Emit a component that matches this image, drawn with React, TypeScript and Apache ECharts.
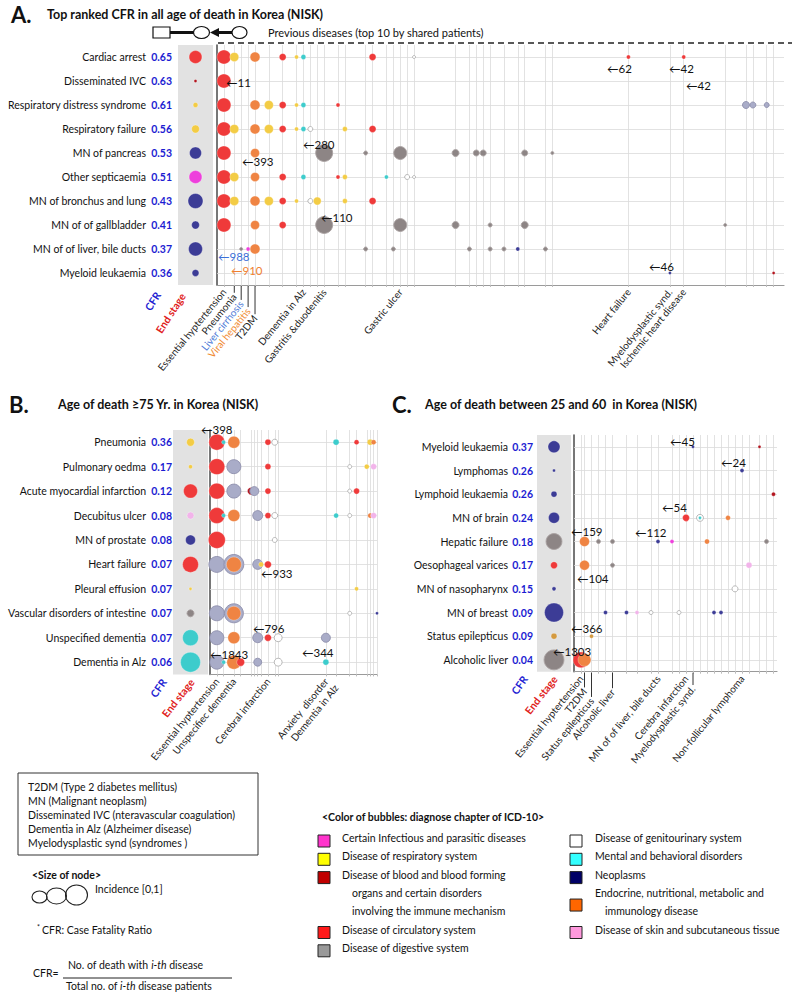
import React, { useEffect, useRef } from 'react';
import * as echarts from 'echarts';

const FONT = 'Lato, "Noto Sans", "DejaVu Sans", sans-serif';

// ---------------- Panel A: all ages ----------------
const rowsA = ['Cardiac arrest', 'Disseminated IVC', 'Respiratory distress syndrome', 'Respiratory failure', 'MN of pancreas', 'Other septicaemia', 'MN of bronchus and lung', 'MN of of gallbladder', 'MN of of liver, bile ducts', 'Myeloid leukaemia'];
const cfrA = [0.65, 0.63, 0.61, 0.56, 0.53, 0.51, 0.43, 0.41, 0.37, 0.36];
const endChapterA = ['circ', 'blood', 'resp', 'resp', 'neo', 'inf', 'neo', 'neo', 'neo', 'neo'];
const endIncA = [0.29, 0.016, 0.043, 0.11, 0.25, 0.29, 0.39, 0.11, 0.34, 0.085];
const slotCountA = 165;
const labelsA: [number, string][] = [
  [2, 'Essential hyptertension'], [5, 'Pneumonia'], [7, 'Liver cirrhosis'], [9, 'Viral hepatitis'], [11, 'T2DM'],
  [25, 'Dementia in Alz'], [31, 'Gastritis &duodenitis'], [53, 'Gastric ulcer'], [119, 'Heart failure'],
  [131, 'Myelodysplastic synd.'], [135, 'Ischemic heart disease'],
];
// [row, column slot, ICD chapter, incidence]
const bubblesA: [number, number, string, number][] = [
  [0, 2, 'circ', 0.34], [0, 5, 'resp', 0.14], [0, 11, 'endo', 0.17], [0, 19, 'circ', 0.085], [0, 23, 'resp', 0.028], [0, 25, 'ment', 0.043], [0, 45, 'circ', 0.085], [0, 57, 'gen', 0.016], [0, 119, 'circ', 0.028], [0, 135, 'circ', 0.028],
  [1, 2, 'circ', 0.34],
  [2, 2, 'circ', 0.34], [2, 11, 'endo', 0.17], [2, 15, 'resp', 0.14], [2, 19, 'circ', 0.085], [2, 23, 'resp', 0.028], [2, 25, 'ment', 0.043], [2, 35, 'circ', 0.028], [2, 153, 'oth', 0.085], [2, 155, 'oth', 0.063], [2, 159, 'oth', 0.043],
  [3, 2, 'circ', 0.34], [3, 5, 'resp', 0.14], [3, 11, 'endo', 0.17], [3, 15, 'resp', 0.14], [3, 19, 'circ', 0.085], [3, 23, 'resp', 0.028], [3, 25, 'ment', 0.043], [3, 27, 'gen', 0.043], [3, 37, 'resp', 0.043], [3, 45, 'circ', 0.085],
  [4, 2, 'circ', 0.34], [4, 11, 'endo', 0.14], [4, 31, 'dig', 0.5], [4, 43, 'dig', 0.028], [4, 53, 'dig', 0.29], [4, 69, 'dig', 0.085], [4, 75, 'dig', 0.063], [4, 77, 'dig', 0.063], [4, 89, 'dig', 0.063], [4, 97, 'dig', 0.016],
  [5, 2, 'circ', 0.34], [5, 5, 'resp', 0.14], [5, 11, 'endo', 0.14], [5, 19, 'circ', 0.085], [5, 25, 'ment', 0.043], [5, 35, 'circ', 0.028], [5, 37, 'resp', 0.043], [5, 49, 'ment', 0.028], [5, 55, 'gen', 0.043], [5, 57, 'gen', 0.016],
  [6, 2, 'circ', 0.34], [6, 5, 'resp', 0.14], [6, 11, 'endo', 0.17], [6, 15, 'resp', 0.14], [6, 19, 'circ', 0.085], [6, 23, 'resp', 0.028], [6, 27, 'gen', 0.043], [6, 29, 'resp', 0.11], [6, 37, 'resp', 0.043], [6, 45, 'circ', 0.085],
  [7, 2, 'circ', 0.34], [7, 11, 'endo', 0.14], [7, 19, 'circ', 0.085], [7, 31, 'dig', 0.5], [7, 53, 'dig', 0.29], [7, 69, 'dig', 0.085], [7, 79, 'dig', 0.028], [7, 89, 'dig', 0.085], [7, 147, 'dig', 0.016],
  [8, 7, 'dig', 0.016], [8, 9, 'inf', 0.028], [8, 11, 'endo', 0.17], [8, 43, 'dig', 0.028], [8, 51, 'dig', 0.028], [8, 73, 'dig', 0.028], [8, 79, 'dig', 0.028], [8, 83, 'dig', 0.028], [8, 87, 'neo', 0.028], [8, 95, 'dig', 0.028],
  [9, 131, 'neo', 0.016], [9, 161, 'blood', 0.016],
];

// ---------------- Panel B: age >= 75 ----------------
const rowsB = ['Pneumonia', 'Pulmonary oedma', 'Acute myocardial infarction', 'Decubitus ulcer', 'MN of prostate', 'Heart failure', 'Pleural effusion', 'Vascular disorders of intestine', 'Unspecified dementia', 'Dementia in Alz'];
const cfrB = [0.36, 0.17, 0.12, 0.08, 0.08, 0.07, 0.07, 0.07, 0.07, 0.06];
const endChapterB = ['resp', 'resp', 'circ', 'skin', 'neo', 'circ', 'resp', 'dig', 'ment', 'ment'];
const endIncB = [0.11, 0.028, 0.34, 0.085, 0.17, 0.44, 0.016, 0.085, 0.44, 0.69];
const slotCountB = 50;
const labelsB: [number, string][] = [
  [2, 'Essential hyptertension'], [7, 'Unspecifiec dementia'], [17, 'Cerebral infarction'], [34, 'Anxiety  disorder'], [37, 'Dementia in Alz'],
];
const bubblesB: [number, number, string, number][] = [
  [0, 2, 'circ', 0.44], [0, 4, 'ment', 0.028], [0, 7, 'endo', 0.25], [0, 17, 'circ', 0.063], [0, 19, 'gen', 0.063], [0, 37, 'ment', 0.063], [0, 43, 'circ', 0.043], [0, 47, 'resp', 0.063], [0, 48, 'endo', 0.043],
  [1, 2, 'circ', 0.44], [1, 7, 'oth', 0.34], [1, 17, 'circ', 0.063], [1, 41, 'gen', 0.028], [1, 46, 'resp', 0.043], [1, 48, 'skin', 0.063],
  [2, 2, 'circ', 0.44], [2, 7, 'oth', 0.34], [2, 12, 'blood', 0.085], [2, 13, 'oth', 0.14], [2, 17, 'circ', 0.063], [2, 41, 'gen', 0.028], [2, 43, 'circ', 0.063],
  [3, 2, 'circ', 0.44], [3, 4, 'ment', 0.028], [3, 7, 'endo', 0.25], [3, 14, 'oth', 0.17], [3, 17, 'circ', 0.063], [3, 19, 'gen', 0.063], [3, 37, 'ment', 0.043], [3, 41, 'gen', 0.028], [3, 47, 'endo', 0.043], [3, 48, 'skin', 0.063],
  [4, 2, 'circ', 0.5], [4, 19, 'gen', 0.043],
  [5, 2, 'oth', 0.44], [5, 7, 'oth', 0.69], [5, 7, 'endo', 0.39], [5, 14, 'oth', 0.17], [5, 15, 'resp', 0.043], [5, 17, 'circ', 0.085],
  [6, 43, 'resp', 0.028],
  [7, 2, 'oth', 0.39], [7, 7, 'oth', 0.63], [7, 7, 'endo', 0.34], [7, 41, 'gen', 0.028], [7, 49, 'neo', 0.016],
  [8, 2, 'oth', 0.34], [8, 7, 'endo', 0.25], [8, 14, 'oth', 0.17], [8, 17, 'circ', 0.085], [8, 20, 'gen', 0.11], [8, 34, 'oth', 0.14],
  [9, 2, 'oth', 0.34], [9, 4, 'ment', 0.028], [9, 7, 'endo', 0.34], [9, 9, 'circ', 0.11], [9, 14, 'oth', 0.11], [9, 20, 'gen', 0.11], [9, 34, 'ment', 0.063],
];

// ---------------- Panel C: age 25-60 ----------------
const rowsC = ['Myeloid leukaemia', 'Lymphomas', 'Lymphoid leukaemia', 'MN of brain', 'Hepatic failure', 'Oesophageal varices', 'MN of nasopharynx', 'MN of breast', 'Status epilepticus', 'Alcoholic liver'];
const cfrC = [0.37, 0.26, 0.26, 0.24, 0.18, 0.17, 0.15, 0.09, 0.09, 0.04];
const endChapterC = ['neo', 'neo', 'neo', 'neo', 'dig', 'circ', 'neo', 'neo', 'nerv', 'dig'];
const endIncC = [0.25, 0.016, 0.063, 0.21, 0.44, 0.085, 0.028, 0.63, 0.063, 0.69];
const slotCountC = 59;
const labelsC: [number, string][] = [
  [2, 'Essential hyptertension'], [3, 'T2DM'], [5, 'Status epilepticus'], [11, 'Alcoholic liver'],
  [24, 'MN of of liver, bile ducts'], [32, 'Cerebra infarction'], [34, 'Myelodysplastic synd.'], [48, 'Non-follicular lymphoma'],
];
const bubblesC: [number, number, string, number][] = [
  [0, 34, 'neo', 0.016], [0, 53, 'blood', 0.016],
  [1, 48, 'neo', 0.028],
  [2, 57, 'blood', 0.028],
  [3, 32, 'circ', 0.085], [3, 36, 'gen', 0.085], [3, 36, 'ment', 0.016], [3, 44, 'endo', 0.043],
  [4, 3, 'endo', 0.17], [4, 7, 'dig', 0.028], [4, 11, 'dig', 0.028], [4, 24, 'neo', 0.028], [4, 28, 'inf', 0.028], [4, 38, 'endo', 0.043], [4, 55, 'dig', 0.028],
  [5, 3, 'endo', 0.17], [5, 11, 'dig', 0.028], [5, 50, 'skin', 0.063],
  [6, 46, 'gen', 0.063],
  [7, 9, 'neo', 0.028], [7, 15, 'neo', 0.028], [7, 18, 'skin', 0.028], [7, 22, 'gen', 0.028], [7, 30, 'gen', 0.028], [7, 40, 'neo', 0.028], [7, 42, 'neo', 0.028],
  [8, 5, 'nerv', 0.028],
  [9, 2, 'circ', 0.44], [9, 3, 'endo', 0.29],
];

// ---------------- Legend ----------------
const legendLeft: [string, string[]][] = [
  ['inf', ['Certain Infectious and parasitic diseases']],
  ['resp', ['Disease of respiratory system']],
  ['blood', ['Disease of blood and blood forming', 'organs and certain disorders', 'involving the immune mechanism']],
  ['circ', ['Disease of circulatory system']],
  ['dig', ['Disease of digestive system']],
];
const legendRight: [string, string[]][] = [
  ['gen', ['Disease of genitourinary system']],
  ['ment', ['Mental and behavioral disorders']],
  ['neo', ['Neoplasms']],
  ['endo', ['Endocrine, nutritional, metabolic and', 'immunology disease']],
  ['skin', ['Disease of skin and subcutaneous tissue']],
];
const abbreviations = [
  'T2DM (Type 2 diabetes mellitus)',
  'MN (Malignant neoplasm)',
  'Disseminated IVC (nteravascular coagulation)',
  'Dementia in Alz (Alzheimer disease)',
  'Myelodysplastic synd (syndromes )',
];

const BUBBLE_FILL: Record<string, string> = {
  inf: '#ee3fdc', resp: '#f3cc45', blood: '#b3141e', circ: '#ef3a3a', dig: '#8d8585',
  gen: '#ffffff', ment: '#3dcccc', neo: '#3c3c96', endo: '#ef8443', skin: '#f2b4ea',
  oth: '#a9acc8', nerv: '#d49a40',
};
const BUBBLE_BORDER: Record<string, string> = {
  gen: '#b0b0b0', oth: '#8e90ad', dig: '#a9a2a2',
};
const LEGEND_FILL: Record<string, string> = {
  inf: '#ff33cc', resp: '#ffff00', blood: '#c00000', circ: '#ff1a1a', dig: '#999999',
  gen: '#ffffff', ment: '#33ffff', neo: '#000066', endo: '#ff6600', skin: '#ff99dd',
};

const sizeOf = (inc: number) => 24 * Math.sqrt(inc);

function bubbleItem(x: number, y: number, ch: string, inc: number) {
  const border = BUBBLE_BORDER[ch];
  return {
    value: [x, y, inc],
    symbolSize: sizeOf(inc),
    itemStyle: {
      color: BUBBLE_FILL[ch],
      borderColor: border ?? 'rgba(255,255,255,0.5)',
      borderWidth: border ? 0.9 : 0.6,
      opacity: 1,
    },
  };
}

const CFR_BLUE = '#1c1cd2';
const ROT = 51;
const SIN = Math.sin((ROT * Math.PI) / 180);
const COS = Math.cos((ROT * Math.PI) / 180);
const X_FONT = 10;

type PanelCfg = {
  labelMargin: number; cfrWidth: number; xMargin: number;
  shift: Record<string, number>; colors: Record<string, string>;
};

function panel(
  gi: number,
  rows: string[], cfr: number[], endCh: string[], endInc: number[],
  slotCount: number, labels: [number, string][], bubbles: [number, number, string, number][],
  cfg: PanelCfg,
) {
  const names: string[] = [];
  const labelMap = new Map(labels);
  for (let i = 0; i < slotCount; i++) names.push(labelMap.get(i) ?? `_${i}`);
  const used = new Set<number>();
  bubbles.forEach((b) => used.add(b[1]));
  labels.forEach((l) => used.add(l[0]));
  const usedArr = Array.from(used).sort((a, b) => a - b);

  // per-label rich styles: perpendicular shift (δ) turned into a drop straight below the tick
  const rich: Record<string, any> = {};
  const keyOf: Record<string, string> = {};
  const leaders: { slot: number; drop: number }[] = [];
  labels.forEach(([slot, text], idx) => {
    const d = cfg.shift[text] ?? 0;
    const col = cfg.colors[text];
    if (!d && !col) return;
    const key = `L${idx}`;
    keyOf[text] = key;
    rich[key] = {
      fontFamily: FONT, fontSize: X_FONT, color: col ?? '#222',
      padding: [2 * d, d * (SIN / COS), 0, 0],
    };
    if (d) leaders.push({ slot, drop: d * (COS + SIN * SIN / COS) });
  });

  const xAxes = [
    { gridIndex: gi, type: 'category', data: ['End stage'], show: false },
    {
      gridIndex: gi + 1, type: 'category', data: names, boundaryGap: false,
      axisLine: { show: true, lineStyle: { color: '#9a9a9a', width: 1.2 } },
      axisTick: { show: true, length: 2, interval: (i: number) => used.has(i), lineStyle: { color: '#bbb' } },
      splitLine: { show: false },
      axisLabel: {
        interval: 0, rotate: ROT, margin: cfg.xMargin, fontFamily: FONT, fontSize: X_FONT, color: '#222',
        formatter: (v: string) => {
          if (v.startsWith('_')) return '';
          const k = keyOf[v];
          return k ? `{${k}|${v}}` : v;
        },
        rich,
      },
    },
  ];
  const yAxes = [
    {
      gridIndex: gi, type: 'category', data: rows, inverse: true,
      axisLine: { show: false }, axisTick: { show: false }, splitLine: { show: false },
      axisLabel: {
        interval: 0, margin: cfg.labelMargin,
        formatter: (v: string, i: number) => `{n|${v}}{c|${cfr[i].toFixed(2)}}`,
        rich: {
          n: { fontFamily: FONT, fontSize: 10.5, color: '#111' },
          c: { fontFamily: FONT, fontSize: 10.5, fontWeight: 'bold', color: CFR_BLUE, width: cfg.cfrWidth, align: 'right' },
        },
      },
    },
    {
      gridIndex: gi + 1, type: 'category', data: rows, inverse: true,
      axisLine: { show: true, lineStyle: { color: '#4a4a4a', width: 1.5 } },
      axisTick: { show: false }, axisLabel: { show: false }, splitLine: { show: false },
    },
  ];
  const series = [
    {
      type: 'scatter', xAxisIndex: gi + 1, yAxisIndex: gi + 1, data: [], z: 1, silent: true,
      markLine: {
        z: 1, silent: true, symbol: ['none', 'none'], label: { show: false }, animation: false,
        lineStyle: { color: '#dadada', width: 0.8, type: 'solid' },
        data: [
          ...rows.map((r) => ({ yAxis: r })),
          ...usedArr.map((s) => ({ xAxis: s })),
        ],
      },
    },
    {
      type: 'scatter', xAxisIndex: gi, yAxisIndex: gi, z: 6, silent: true,
      data: endCh.map((ch, i) => bubbleItem(0, i, ch, endInc[i])),
    },
    {
      type: 'scatter', xAxisIndex: gi + 1, yAxisIndex: gi + 1, z: 6, silent: true,
      data: bubbles.map((b) => bubbleItem(b[1], b[0], b[2], b[3])),
    },
  ];
  return { xAxes, yAxes, series, leaders };
}

function txt(text: string, x: number, y: number, o: any = {}) {
  return {
    type: 'text', x, y, silent: true, rotation: o.rot ?? 0, z: 10,
    style: {
      text, fontFamily: FONT, fontSize: o.size ?? 11, fontWeight: o.weight ?? 'normal',
      fontStyle: o.style ?? 'normal',
      fill: o.color ?? '#111', align: o.align ?? 'left', verticalAlign: o.va ?? 'middle',
      textAlign: o.align ?? 'left', textVerticalAlign: o.va ?? 'middle', rich: o.rich,
    },
  };
}

const deg = (d: number) => (d * Math.PI) / 180;

export default function App() {
  const ref = useRef<HTMLDivElement>(null);
  useEffect(() => {
    if (!ref.current) return;
    const chart = echarts.init(ref.current, null, { renderer: 'svg' });

    const pA = panel(0, rowsA, cfrA, endChapterA, endIncA, slotCountA, labelsA, bubblesA, {
      labelMargin: 6, cfrWidth: 26, xMargin: 5,
      shift: { 'Pneumonia': 3, 'Liver cirrhosis': 7.5, 'Viral hepatitis': 12, 'T2DM': 16.5 },
      colors: { 'Liver cirrhosis': '#4a78d6', 'Viral hepatitis': '#f08a30' },
    });
    const pB = panel(2, rowsB, cfrB, endChapterB, endIncB, slotCountB, labelsB, bubblesB, {
      labelMargin: 1, cfrWidth: 26, xMargin: 5, shift: { 'Dementia in Alz': 4 }, colors: {},
    });
    const pC = panel(4, rowsC, cfrC, endChapterC, endIncC, slotCountC, labelsC, bubblesC, {
      labelMargin: 4, cfrWidth: 25, xMargin: 5,
      shift: { 'T2DM': 8, 'Status epilepticus': 14, 'Alcoholic liver': 8.5, 'Myelodysplastic synd.': 6.5 },
      colors: {},
    });

    const band = { show: true, backgroundColor: '#e2e2e2', borderWidth: 0 };
    const grid = [
      { left: 178, top: 45, width: 35, height: 240, ...band },
      { left: 217, top: 45, width: 567, height: 240 },
      { left: 173, top: 430, width: 35, height: 244.4, ...band },
      { left: 210, top: 430, width: 167, height: 244.4 },
      { left: 537, top: 435, width: 34, height: 236.7, ...band },
      { left: 574, top: 435, width: 203, height: 236.7 },
    ];

    const ann = (t: string, x: number, y: number, color = '#111') => txt(t, x, y, { size: 11.5, color });
    const graphics: any[] = [
      // Titles
      txt('A.', 11, 14, { size: 22, weight: 'bold' }),
      txt('Top ranked CFR in all age of death in Korea (NISK)', 47, 14, { size: 12.5, weight: 'bold' }),
      txt('B.', 9, 404, { size: 22, weight: 'bold' }),
      txt('Age of death ≥75 Yr. in Korea (NISK)', 58, 404, { size: 12.5, weight: 'bold' }),
      txt('C.', 392, 404, { size: 22, weight: 'bold' }),
      txt('Age of death between 25 and 60  in Korea (NISK)', 425, 404, { size: 12.5, weight: 'bold' }),
      // Network schematic
      { type: 'rect', shape: { x: 153, y: 27, width: 17, height: 11 }, style: { fill: '#fff', stroke: '#111', lineWidth: 1.2 }, silent: true },
      { type: 'line', shape: { x1: 170, y1: 32.5, x2: 194, y2: 32.5 }, style: { stroke: '#111', lineWidth: 3 }, silent: true },
      { type: 'ellipse', shape: { cx: 201.5, cy: 32.5, rx: 8, ry: 6 }, style: { fill: '#fff', stroke: '#111', lineWidth: 1.2 }, silent: true },
      { type: 'polygon', shape: { points: [[210, 32.5], [219, 28], [219, 37]] }, style: { fill: '#111' }, silent: true },
      { type: 'line', shape: { x1: 219, y1: 32.5, x2: 232, y2: 32.5 }, style: { stroke: '#111', lineWidth: 3 }, silent: true },
      { type: 'ellipse', shape: { cx: 239.5, cy: 32.5, rx: 7.5, ry: 6 }, style: { fill: '#fff', stroke: '#111', lineWidth: 1.2 }, silent: true },
      txt('Previous diseases (top 10 by shared patients)', 268, 32, { size: 11 }),
      { type: 'line', shape: { x1: 218, y1: 43, x2: 792, y2: 43 }, style: { stroke: '#222', lineWidth: 1.5, lineDash: [6, 4] }, silent: true },
      // CFR / End stage rotated labels
      txt('CFR', 158, 293, { size: 10.5, weight: 'bold', color: CFR_BLUE, align: 'right', rot: deg(57) }),
      txt('End stage', 183, 294, { size: 10.5, weight: 'bold', color: '#e02020', align: 'right', rot: deg(57) }),
      txt('CFR', 164, 680, { size: 10.5, weight: 'bold', color: CFR_BLUE, align: 'right', rot: deg(55) }),
      txt('End stage', 192, 680, { size: 10.5, weight: 'bold', color: '#e02020', align: 'right', rot: deg(52) }),
      txt('CFR', 525, 677, { size: 10.5, weight: 'bold', color: CFR_BLUE, align: 'right', rot: deg(55) }),
      txt('End stage', 555, 677, { size: 10.5, weight: 'bold', color: '#e02020', align: 'right', rot: deg(52) }),
      // Annotations A
      ann('←11', 226, 82), ann('←393', 242, 161), ann('←280', 303, 144), ann('←110', 321, 217),
      ann('←988', 218, 256, '#3b6fd8'), ann('←910', 231, 270, '#f07f30'),
      ann('←62', 607, 68), ann('←42', 669, 68), ann('←42', 686, 85), ann('←46', 649, 266),
      // Annotations B
      ann('←398', 201, 429), ann('←933', 261, 573), ann('←796', 253, 628), ann('←1843', 210, 654), ann('←344', 302, 652),
      // Annotations C
      ann('←45', 670, 441), ann('←24', 721, 462), ann('←54', 662, 507), ann('←159', 571, 531), ann('←112', 635, 532),
      ann('←104', 577, 578), ann('←366', 571, 628), ann('←1303', 553, 651),
      // Abbreviation box
      { type: 'rect', shape: { x: 18, y: 773, width: 240, height: 82 }, style: { fill: 'none', stroke: '#333', lineWidth: 1 }, silent: true },
      ...abbreviations.map((a, i) => txt(a, 28, 787 + 14 * i, { size: 10.5 })),
      // Size of node
      txt('<Size of node>', 32, 875, { size: 10.5, weight: 'bold' }),
      { type: 'ellipse', shape: { cx: 39.5, cy: 897, rx: 7.5, ry: 6 }, style: { fill: 'none', stroke: '#222', lineWidth: 1.1 }, silent: true },
      { type: 'ellipse', shape: { cx: 56.5, cy: 896, rx: 10, ry: 8 }, style: { fill: 'none', stroke: '#222', lineWidth: 1.1 }, silent: true },
      { type: 'ellipse', shape: { cx: 76.5, cy: 895, rx: 11, ry: 10 }, style: { fill: 'none', stroke: '#222', lineWidth: 1.1 }, silent: true },
      txt('Incidence [0,1]', 95, 889, { size: 10.5 }),
      txt('*', 37, 927, { size: 7 }),
      txt('CFR: Case Fatality Ratio', 42, 930, { size: 10.5 }),
      txt('CFR=', 33, 973, { size: 10.5 }),
      txt('No. of death with {i|i-th} disease', 68, 965, { size: 10.5, rich: { i: { fontStyle: 'italic', fontFamily: FONT, fontSize: 10.5, fill: '#111' } } }),
      { type: 'line', shape: { x1: 63, y1: 978, x2: 232, y2: 978 }, style: { stroke: '#222', lineWidth: 1 }, silent: true },
      txt('Total no. of {i|i-th} disease patients', 66, 986, { size: 10.5, rich: { i: { fontStyle: 'italic', fontFamily: FONT, fontSize: 10.5, fill: '#111' } } }),
      // Color legend
      txt('<Color of bubbles: diagnose chapter of ICD-10>', 322, 817, { size: 10.5, weight: 'bold' }),
    ];
    const lineH = 18.3;
    let yy = 838;
    legendLeft.forEach(([ch, lines]) => {
      graphics.push({ type: 'rect', shape: { x: 318, y: yy - 3, width: 12, height: 12 }, style: { fill: LEGEND_FILL[ch], stroke: '#222', lineWidth: 1 }, silent: true });
      lines.forEach((l, k) => graphics.push(txt(l, k === 0 ? 342 : 352, yy + k * lineH, { size: 10.5 })));
      yy += lineH * lines.length;
    });
    yy = 838;
    legendRight.forEach(([ch, lines]) => {
      const sqY = lines.length > 1 ? yy + lineH / 2 : yy;
      graphics.push({ type: 'rect', shape: { x: 570, y: sqY - 3, width: 12, height: 12 }, style: { fill: LEGEND_FILL[ch], stroke: '#222', lineWidth: 1 }, silent: true });
      lines.forEach((l, k) => graphics.push(txt(l, k === 0 ? 595 : 605, yy + k * lineH, { size: 10.5 })));
      yy += lineH * lines.length;
    });

    chart.setOption({
      animation: false,
      backgroundColor: '#ffffff',
      textStyle: { fontFamily: FONT },
      grid,
      xAxis: [...pA.xAxes, ...pB.xAxes, ...pC.xAxes],
      yAxis: [...pA.yAxes, ...pB.yAxes, ...pC.yAxes],
      series: [...pA.series, ...pB.series, ...pC.series],
      graphic: graphics,
    });

    // leader lines from the ticks down to the dropped labels
    const leaderLines: any[] = [];
    const addLeaders = (p: { leaders: { slot: number; drop: number }[] }, xAxisIndex: number, g: any, margin: number) => {
      const axisY = g.top + g.height;
      p.leaders.forEach(({ slot, drop }) => {
        const x = chart.convertToPixel({ xAxisIndex }, slot) as number;
        leaderLines.push({
          type: 'line', silent: true, z: 9,
          shape: { x1: x, y1: axisY + 1, x2: x, y2: axisY + margin + drop - 2 },
          style: { stroke: '#333', lineWidth: 1 },
        });
      });
    };
    addLeaders(pA, 1, grid[1], 5);
    addLeaders(pC, 5, grid[5], 5);
    chart.setOption({ graphic: [...graphics, ...leaderLines] });

    return () => chart.dispose();
  }, []);
  return <div ref={ref} style={{ position: 'absolute', left: 0, top: 0, width: 792, height: 999 }} />;
}
